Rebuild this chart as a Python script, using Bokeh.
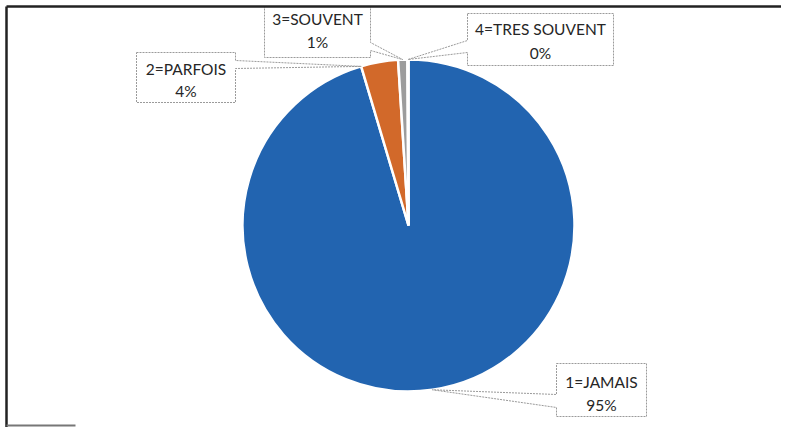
import math
from bokeh.plotting import figure
from bokeh.models import Range1d, ColumnDataSource
from bokeh.core.properties import value
from bokeh.embed import file_html
from bokeh.resources import INLINE

# ---- data ----
categories = ["1=JAMAIS", "2=PARFOIS", "3=SOUVENT", "4=TRES SOUVENT"]
shares = [95.4, 3.6, 0.9, 0.1]
colors = ["#2264B0", "#D2692A", "#9C9C9C", "#F2B800"]

# ---- layout (screen pixel coordinates, y downward) ----
W, H = 781, 427
CX, CY, R = 408, 225, 166

def sy(y):  # screen y -> data y (data y goes up)
    return H - y

p = figure(width=W, height=H, output_backend="svg", toolbar_location=None,
           x_range=Range1d(0, W), y_range=Range1d(0, H), min_border=0)
p.axis.visible = False
p.grid.visible = False
p.outline_line_color = None
p.background_fill_color = "white"

# ---- pie ----
total = sum(shares)
starts, ends, cum = [], [], 0.0
for s in shares:
    starts.append(math.pi / 2 - 2 * math.pi * cum / total)
    cum += s
    ends.append(math.pi / 2 - 2 * math.pi * cum / total)
src = ColumnDataSource(dict(x=[CX] * 4, y=[sy(CY)] * 4, start=starts, end=ends, color=colors))
p.wedge(x="x", y="y", radius=R, start_angle="start", end_angle="end", direction="clock",
        fill_color="color", line_color="white", line_width=2.5, source=src)

# ---- callouts ----
boxes = [
    ((556, 363, 646, 416), "left", (394, 407), 0.5, (381, 404)),
    ((136, 52, 235, 102), "right", (60, 68), 0.0, (68, 90)),
    ((264, 6, 370, 57), "right", (42, 50), 0.5, (18, 41)),
    ((467, 13, 613, 65), "left", (40, 52), 0.5, (28, 52)),
]
xs, ys = [], []
tx, ty, tt = [], [], []
cum = 0.0
for i, (box, side, (ya, yb), frac, (t1, t2)) in enumerate(boxes):
    a = 2 * math.pi * (cum + frac * shares[i]) / total
    cum += shares[i]
    px = CX + R * math.sin(a)
    py = CY - R * math.cos(a)
    x0, y0, x1, y1 = box
    if side == "left":
        pts = [(x0, y0), (x1, y0), (x1, y1), (x0, y1), (x0, yb), (px, py), (x0, ya)]
    else:
        pts = [(x0, y0), (x1, y0), (x1, ya), (px, py), (x1, yb), (x1, y1), (x0, y1)]
    xs.append([q[0] for q in pts])
    ys.append([sy(q[1]) for q in pts])
    cx = (x0 + x1) / 2
    pct = f"{round(shares[i])}%"
    tx += [cx, cx]
    ty += [sy(t1), sy(t2)]
    tt += [categories[i], pct]

p.patches(xs, ys, fill_color="white", line_color="#9a9a9a", line_width=1, line_dash="2 1")
p.text(x=tx, y=ty, text=tt, text_align="center", text_baseline="middle",
       text_font=value("Lato"), text_font_size="15.5px", text_color="#262626")

# ---- scanned frame ----
p.line([6, W], [sy(6), sy(6)], line_color="#222222", line_width=2.5)
p.line([6, 6], [sy(6), sy(H)], line_color="#222222", line_width=2.5)
p.line([6, 75], [sy(H - 2), sy(H - 2)], line_color="#777777", line_width=2)

open("out.html", "w").write(file_html(p, INLINE))
